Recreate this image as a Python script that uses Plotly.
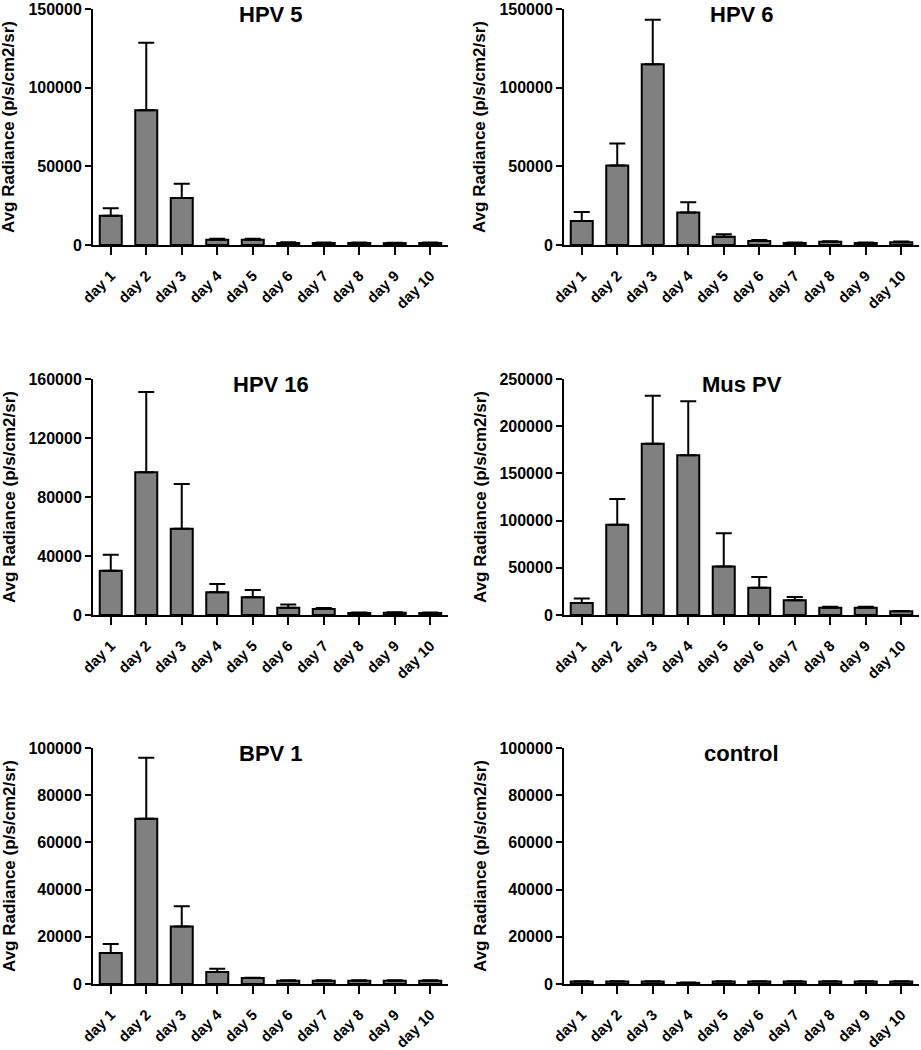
import plotly.graph_objects as go

days = ["day 1", "day 2", "day 3", "day 4", "day 5", "day 6", "day 7", "day 8", "day 9", "day 10"]

titles = ["HPV 5", "HPV 6", "HPV 16", "Mus PV", "BPV 1", "control"]

hpv5_mean = [18600, 85700, 29900, 3400, 3400, 1300, 1300, 1300, 1200, 1300]
hpv5_err = [4700, 42800, 9100, 600, 600, 400, 300, 300, 300, 300]

hpv6_mean = [15300, 50500, 114900, 20600, 5300, 2500, 1300, 2100, 1300, 1700]
hpv6_err = [5700, 14000, 28200, 6500, 1500, 700, 300, 300, 300, 600]

hpv16_mean = [30000, 96700, 58500, 15400, 12000, 5000, 4100, 1400, 1600, 1400]
hpv16_err = [10900, 54500, 30300, 5600, 5000, 2200, 600, 300, 300, 300]

muspv_mean = [12700, 95700, 181400, 169100, 51500, 28900, 15500, 7800, 7800, 3900]
muspv_err = [4900, 27100, 50900, 57200, 35000, 11300, 3600, 1000, 1000, 400]

bpv1_mean = [13100, 70000, 24400, 5100, 2500, 1400, 1400, 1400, 1400, 1400]
bpv1_err = [3800, 25900, 8500, 1400, 200, 200, 200, 200, 200, 200]

control_mean = [1100, 1100, 1100, 500, 1100, 1100, 1100, 1100, 1100, 1100]
control_err = [100, 100, 100, 100, 100, 100, 100, 100, 100, 100]

y_max = [150000, 150000, 160000, 250000, 100000, 100000]
y_dtick = [50000, 50000, 40000, 50000, 20000, 20000]

means = [hpv5_mean, hpv6_mean, hpv16_mean, muspv_mean, bpv1_mean, control_mean]
errs = [hpv5_err, hpv6_err, hpv16_err, muspv_err, bpv1_err, control_err]

W, H = 921, 1050
col_px = [(93, 448), (564, 919)]
row_px = [(9, 245), (379, 615), (748, 984)]

FONT = "Liberation Sans, Arial, sans-serif"

fig = go.Figure()
annotations = []
layout_axes = {}
for i in range(6):
    r, c = divmod(i, 2)
    x0, x1 = col_px[c]
    yt, yb = row_px[r]
    xd = [x0 / W, x1 / W]
    yd = [1 - yb / H, 1 - yt / H]
    n = i + 1
    xa = "x" if n == 1 else f"x{n}"
    ya = "y" if n == 1 else f"y{n}"
    fig.add_trace(go.Bar(
        x=days, y=means[i], xaxis=xa, yaxis=ya,
        width=0.62,
        marker=dict(color="#808080", line=dict(color="black", width=2)),
        error_y=dict(type="data", symmetric=False, array=errs[i],
                     arrayminus=[0] * len(days), color="black",
                     thickness=2, width=8),
        showlegend=False,
    ))
    xkey = "xaxis" if n == 1 else f"xaxis{n}"
    ykey = "yaxis" if n == 1 else f"yaxis{n}"
    layout_axes[xkey] = dict(
        domain=xd, anchor=ya, type="category", range=[-0.5, 9.5],
        automargin=False,
        showline=True, linecolor="black", linewidth=2,
        ticks="outside", ticklen=8, tickwidth=2, tickcolor="black",
        ticklabelstandoff=6,
        tickangle=-45, showgrid=False, zeroline=False,
        tickfont=dict(family=FONT, size=15, color="black", weight="bold"),
    )
    layout_axes[ykey] = dict(
        domain=yd, anchor=xa, range=[0, y_max[i]], dtick=y_dtick[i],
        tick0=0, tickformat="d", automargin=False,
        showline=True, linecolor="black", linewidth=2,
        ticks="outside", ticklen=6, tickwidth=2, tickcolor="black",
        showgrid=False, zeroline=False,
        tickfont=dict(family=FONT, size=16, color="black", weight="bold"),
    )
    annotations.append(dict(
        text=f"<b>{titles[i]}</b>", xref="paper", yref="paper",
        x=(xd[0] + xd[1]) / 2, y=1 - (yt - 9) / H, xanchor="center", yanchor="top",
        showarrow=False, font=dict(family=FONT, size=22, color="black"),
    ))
    annotations.append(dict(
        text="<b>Avg Radiance (p/s/cm2/sr)</b>", xref="paper", yref="paper",
        x=(x0 - 84) / W, y=(yd[0] + yd[1]) / 2, xanchor="center", yanchor="middle",
        textangle=-90, showarrow=False,
        font=dict(family=FONT, size=17, color="black"),
    ))

fig.update_layout(
    template="none",
    width=W, height=H,
    margin=dict(l=0, r=0, t=0, b=0, autoexpand=False),
    paper_bgcolor="white", plot_bgcolor="white",
    annotations=annotations,
    **layout_axes,
)

fig.write_html("out.html", config={"displayModeBar": False},
               post_script="document.body.style.margin='0';")
